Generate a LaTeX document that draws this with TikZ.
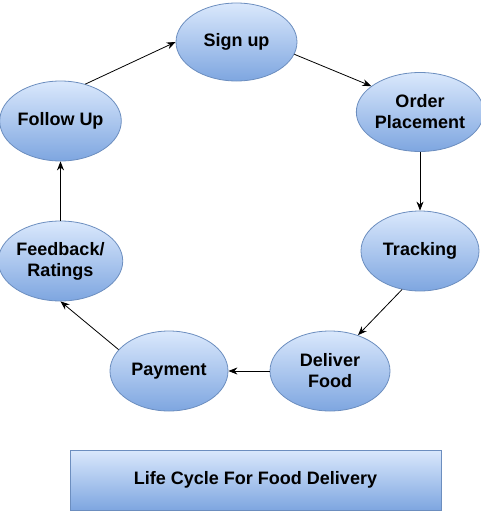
\documentclass[tikz,border=0pt]{standalone}
\usepackage{fontspec}
\setmainfont{Liberation Sans}
\usetikzlibrary{shapes.geometric,arrows.meta}
\definecolor{fillTop}{HTML}{DAE8FC}
\definecolor{fillBot}{HTML}{7EA6E0}
\definecolor{edgeBlue}{HTML}{6C8EBF}
\begin{document}
\begin{tikzpicture}[x=1pt,y=-1pt,
  stage/.style={ellipse, draw=edgeBlue, line width=0.8pt, top color=fillTop, bottom color=fillBot,
    minimum width=120pt, minimum height=80pt, inner sep=0pt, align=center,
    font=\fontsize{18}{21}\selectfont\bfseries},
  titlebox/.style={rectangle, draw=edgeBlue, line width=0.8pt, top color=fillTop, bottom color=fillBot,
    minimum width=371pt, minimum height=60pt, inner sep=0pt,
    font=\fontsize{18}{21}\selectfont\bfseries},
  flow/.style={draw=black, line width=0.8pt, -{Stealth[length=9pt,width=7pt]}}]
\useasboundingbox (0,0) rectangle (481,511);
\node[stage, minimum width=121pt, minimum height=78pt] (signup) at (236.5,42) {Sign up};
\node[stage, minimum width=121pt, minimum height=79pt] (order) at (420,112) {Order\\Placement};
\node[stage, minimum width=118pt] (tracking) at (420,251) {Tracking};
\node[stage] (deliver) at (330,371) {Deliver\\Food};
\node[stage, minimum width=118pt] (payment) at (169,371) {Payment};
\node[stage, minimum width=121pt] (feedback) at (60.5,261) {Feedback/\\Ratings};
\node[stage, minimum width=121pt] (followup) at (60.5,121) {Follow Up};
\node[titlebox] (title) at (255.5,480) {Life Cycle For Food Delivery};
\draw[flow] (followup.56) -- (signup.west);
\draw[flow] (signup.-12) -- (order.152);
\draw[flow] (order.south) -- (tracking.north);
\draw[flow] (tracking.-115) -- (deliver.52);
\draw[flow] (deliver.west) -- (payment.east);
\draw[flow] (payment.157) -- (feedback.south);
\draw[flow] (feedback.north) -- (followup.south);
\end{tikzpicture}
\end{document}
